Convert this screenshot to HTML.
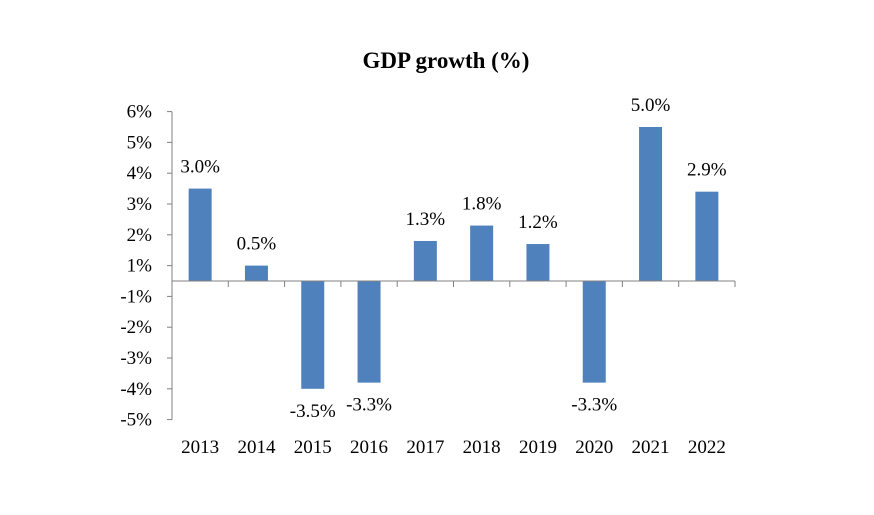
<!DOCTYPE html>
<html><head><meta charset="utf-8"><style>
body{margin:0;background:#fff;}
svg text{font-family:"Liberation Serif",serif;fill:#000;}
</style></head><body>
<svg id="chart" width="874" height="510">
<text x="446" y="68" text-anchor="middle" font-size="23" font-weight="bold">GDP growth (%)</text>
<g id="g"></g>
</svg>
<script>
const categories=["2013","2014","2015","2016","2017","2018","2019","2020","2021","2022"];
const values=[3.0,0.5,-3.5,-3.3,1.3,1.8,1.2,-3.3,5.0,2.9];
const tickLabels=["6%","5%","4%","3%","2%","1%","-1%","-2%","-3%","-4%","-5%"];
const tickValues=[5.5,4.5,3.5,2.5,1.5,0.5,-0.5,-1.5,-2.5,-3.5,-4.5];
const NS="http://www.w3.org/2000/svg";
const g=document.getElementById('g');
const x0=172,x1=735,zeroY=281,unit=30.8;
const y=v=>zeroY-v*unit;
const bw=(x1-x0)/categories.length;
const xc=i=>x0+bw*(i+0.5);
function el(t,a){const e=document.createElementNS(NS,t);for(const k in a)e.setAttribute(k,a[k]);g.appendChild(e);return e;}
let ax=el('line',{x1:x0,x2:x0,y1:y(5.5),y2:y(-4.5),stroke:'#808080','stroke-width':1});


tickValues.forEach((v,i)=>{
  let t=el('line',{x1:x0-5,x2:x0,y1:y(v),y2:y(v),stroke:'#808080'});
  
  
  let l=el('text',{x:x0-20,y:y(v)+6,'text-anchor':'end','font-size':19});
  l.textContent=tickLabels[i];
  
  
});
categories.forEach((c,i)=>{
  const v=values[i];
  let r=el('rect',{x:xc(i)-11.5,width:23,y:Math.min(y(v),zeroY),height:Math.abs(y(v)-zeroY),fill:'#4f81bd'});
  
  
  let lb=el('text',{x:xc(i),y:v>=0?y(v)-16:y(v)+28,'text-anchor':'middle','font-size':19});
  lb.textContent=values[i].toFixed(1)+'%';
  
  
  let cl=el('text',{x:xc(i),y:453,'text-anchor':'middle','font-size':19});
  cl.textContent=c;
  
  
});
for(let i=0;i<=categories.length;i++){
  let t=el('line',{x1:x0+bw*i,x2:x0+bw*i,y1:zeroY,y2:zeroY+6,stroke:'#808080'});
  
  
}
let xa=el('line',{x1:x0,x2:x1,y1:zeroY,y2:zeroY,stroke:'#808080'});


</script>
</body></html>
